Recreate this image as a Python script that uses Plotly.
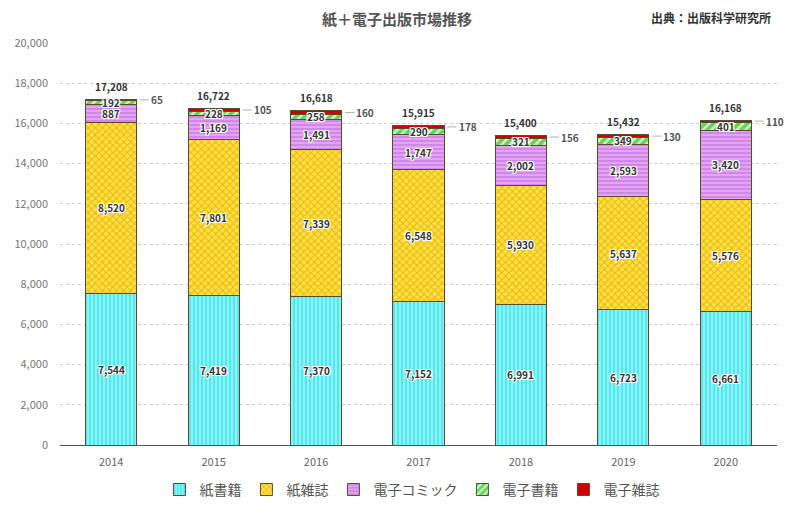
import plotly.graph_objects as go

years = ["2014", "2015", "2016", "2017", "2018", "2019", "2020"]
paper_books = [7544, 7419, 7370, 7152, 6991, 6723, 6661]
paper_magazines = [8520, 7801, 7339, 6548, 5930, 5637, 5576]
e_comics = [887, 1169, 1491, 1747, 2002, 2593, 3420]
e_books = [192, 228, 258, 290, 321, 349, 401]
e_magazines = [65, 105, 160, 178, 156, 130, 110]
series_names = ["紙書籍", "紙雑誌", "電子コミック", "電子書籍", "電子雑誌"]
y_ticks = [0, 2000, 4000, 6000, 8000, 10000, 12000, 14000, 16000, 18000, 20000]

FONT = "Noto Sans CJK JP"
OUTLINE = "#5b4a2e"
styles = [
    dict(bg="#7ff8f8", fg="#52d8e8", shape="|", size=4),
    dict(bg="#ffe23a", fg="#e8b020", shape="x", size=5),
    dict(bg="#e6a3f5", fg="#c77de0", shape="-", size=4),
    dict(bg="#5fd85a", fg="#e8ffe0", shape="/", size=6),
    dict(bg="#d10000", fg="#d10000", shape="", size=4),
]
all_series = [paper_books, paper_magazines, e_comics, e_books, e_magazines]

fig = go.Figure()
for name, vals, st in zip(series_names, all_series, styles):
    fig.add_trace(go.Bar(
        x=years, y=vals, name=name, width=0.5,
        marker=dict(color=st["bg"], line=dict(color=OUTLINE, width=1),
                    pattern=dict(shape=st["shape"], fgcolor=st["fg"], bgcolor=st["bg"],
                                 size=st["size"], solidity=0.35, fillmode="replace")),
        hoverinfo="skip",
    ))

shadow = "-1px -1px 0 #fff, 1px -1px 0 #fff, -1px 1px 0 #fff, 1px 1px 0 #fff, 0 1px 0 #fff, 0 -1px 0 #fff, 1px 0 0 #fff, -1px 0 0 #fff"
annotations = []
for i, yr in enumerate(years):
    base = 0
    for k, vals in enumerate(all_series):
        v = vals[i]
        mid = base + v / 2
        if k < 4:
            annotations.append(dict(
                x=i, y=mid, text=f"<b>{v:,}</b>", showarrow=False,
                font=dict(family=FONT, size=10, color="#333333", shadow=shadow),
            ))
        else:
            annotations.append(dict(
                x=i, y=mid, xshift=28, text=f"<b>{v:,}</b>", showarrow=True,
                arrowhead=0, arrowwidth=1, arrowcolor="#b0b0b0", ax=10, ay=0,
                xanchor="left", standoff=1,
                font=dict(family=FONT, size=10, color="#555555"),
            ))
        base += v
    annotations.append(dict(
        x=i, y=base, yshift=13, text=f"<b>{base:,}</b>", showarrow=False,
        font=dict(family=FONT, size=10, color="#333333"),
    ))

annotations.append(dict(
    xref="paper", yref="paper", x=0.470, y=1.0, yshift=25, xanchor="center", yanchor="middle",
    text="<b>紙＋電子出版市場推移</b>", showarrow=False,
    font=dict(family=FONT, size=15, color="#555555"),
))
annotations.append(dict(
    xref="paper", yref="paper", x=0.9944, y=1.0, yshift=26, xanchor="right", yanchor="middle",
    text="<b>出典：出版科学研究所</b>", showarrow=False,
    font=dict(family=FONT, size=12, color="#333333"),
))

fig.update_layout(
    barmode="stack",
    width=792, height=502,
    margin=dict(l=52, r=23, t=35, b=65),
    paper_bgcolor="white", plot_bgcolor="white",
    font=dict(family=FONT, color="#666666"),
    annotations=annotations,
    showlegend=True,
    legend=dict(orientation="h", xref="container", yref="container",
                x=0.51, xanchor="center", y=0.04, yanchor="middle",
                font=dict(family=FONT, size=14, color="#555555"),
                traceorder="normal", itemwidth=30),
    xaxis=dict(type="category", showgrid=False, ticks="", range=[-0.5, 6.5], automargin=False,
               ticklabelstandoff=9,
               tickfont=dict(size=11, color="#666666", family=FONT), showline=False),
    yaxis=dict(range=[0, 20000], tickvals=y_ticks, tickformat=",", ticks="", automargin=False,
               ticklabelstandoff=11,
               tickfont=dict(size=11, color="#777777", family=FONT),
               showgrid=True, gridcolor="#d0d0d0", griddash="dot", gridwidth=1,
               zeroline=True, zerolinecolor="#555555", zerolinewidth=1),
)

fig.write_html("out.html")
